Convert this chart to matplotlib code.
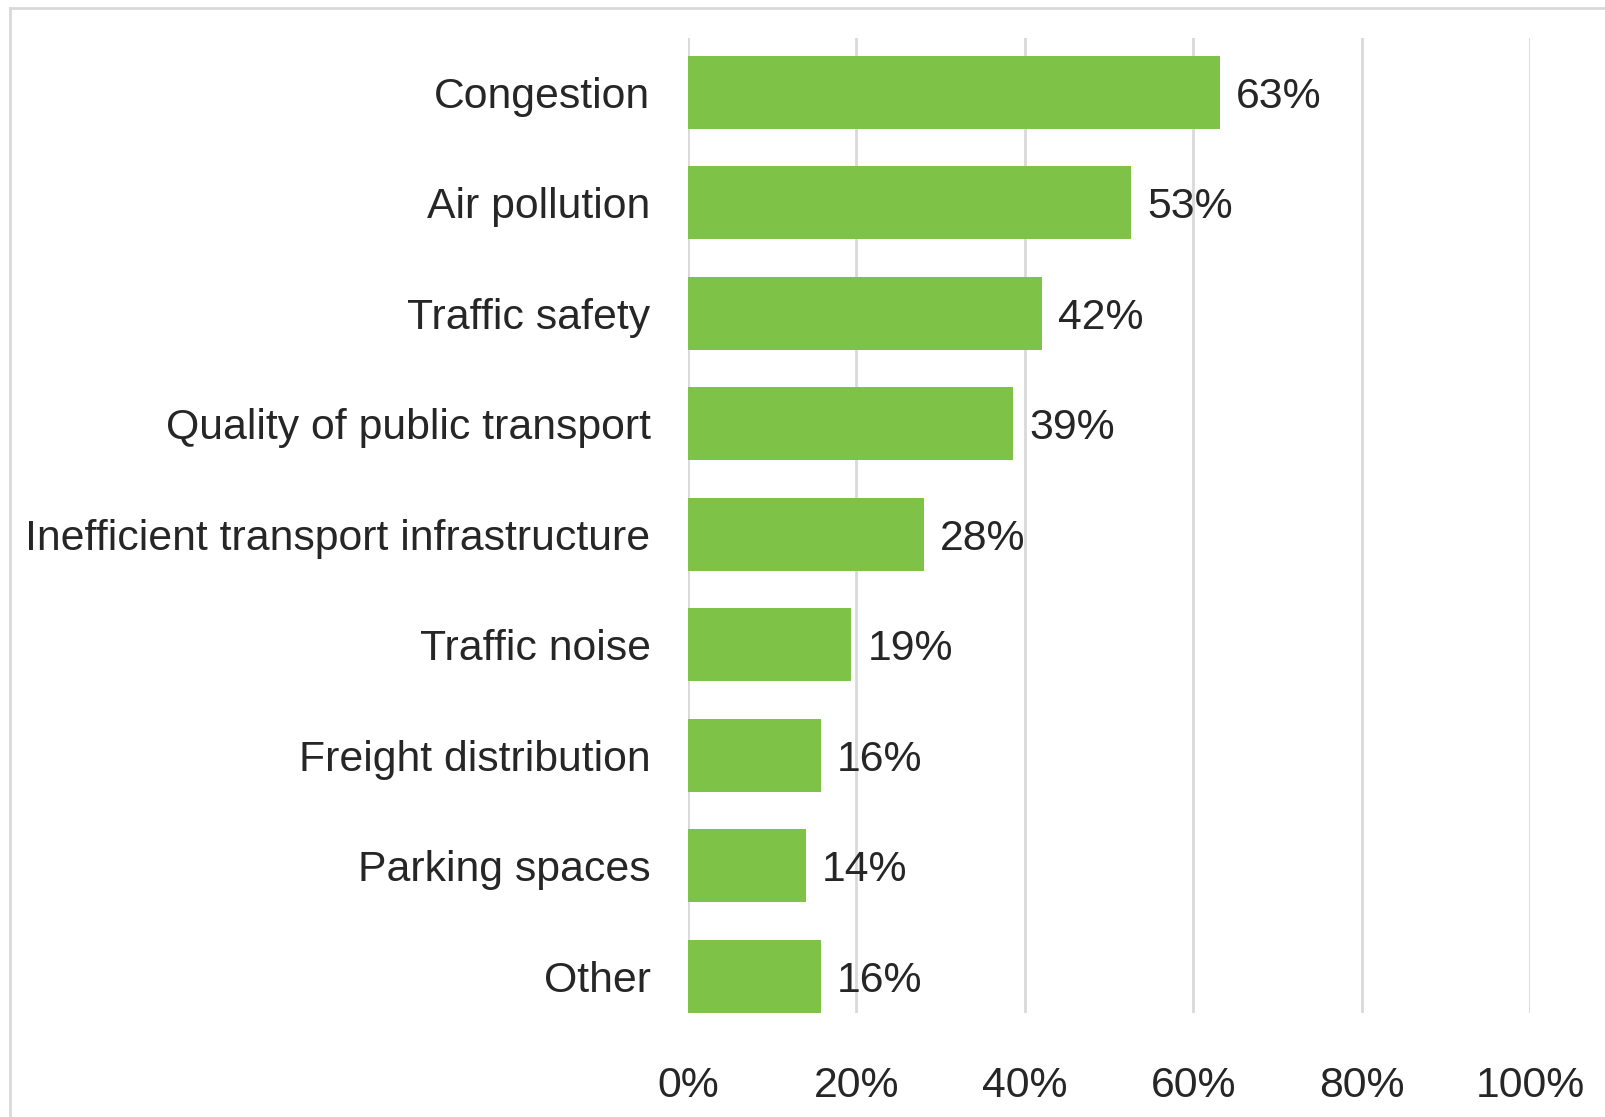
import numpy as np
import matplotlib.pyplot as plt
from matplotlib.lines import Line2D

categories = ["Congestion", "Air pollution", "Traffic safety", "Quality of public transport",
              "Inefficient transport infrastructure", "Traffic noise", "Freight distribution",
              "Parking spaces", "Other"]
values = [63.2, 52.6, 42.0, 38.6, 28.0, 19.4, 15.8, 14.0, 15.8]
xticks = [0, 20, 40, 60, 80, 100]

plt.rcParams['font.family'] = ['Liberation Sans', 'DejaVu Sans']
text_color = '#262626'
fs = 30.8

fig = plt.figure(figsize=(16.05, 11.17), dpi=100)
ax = fig.add_axes([688 / 1605, 1 - 1013 / 1117, (1530 - 688) / 1605, (1013 - 38) / 1117])

y = np.arange(len(categories))
ax.barh(y, values, height=0.66, color='#7fc248', zorder=3)

for yi, v in zip(y, values):
    ax.text(v + 1.9, yi + 0.04, f"{v:.0f}%", va='center', ha='left', fontsize=fs, color=text_color)

ax.set_xlim(0, 100)
ax.set_ylim(len(categories) - 1 + 0.33, -0.49)
ax.set_xticks(xticks)
ax.set_xticklabels([f"{t}%" for t in xticks], fontsize=fs, color=text_color)
ax.set_yticks(y)
ax.set_yticklabels(categories, fontsize=fs, color=text_color)
ax.tick_params(axis='both', length=0)
ax.tick_params(axis='y', pad=27)
ax.tick_params(axis='x', pad=38)
ax.grid(axis='x', color='#d9d9d9', linewidth=2, zorder=0)
for s in ax.spines.values():
    s.set_visible(False)

# outer chart border (only left and top visible)
fig.add_artist(Line2D([10 / 1605, 10 / 1605], [0, 1 - 8 / 1117], transform=fig.transFigure,
                      color='#d9d9d9', linewidth=2))
fig.add_artist(Line2D([10 / 1605, 1], [1 - 8 / 1117, 1 - 8 / 1117], transform=fig.transFigure,
                      color='#d9d9d9', linewidth=2))

fig.savefig("out.png", dpi=100)
